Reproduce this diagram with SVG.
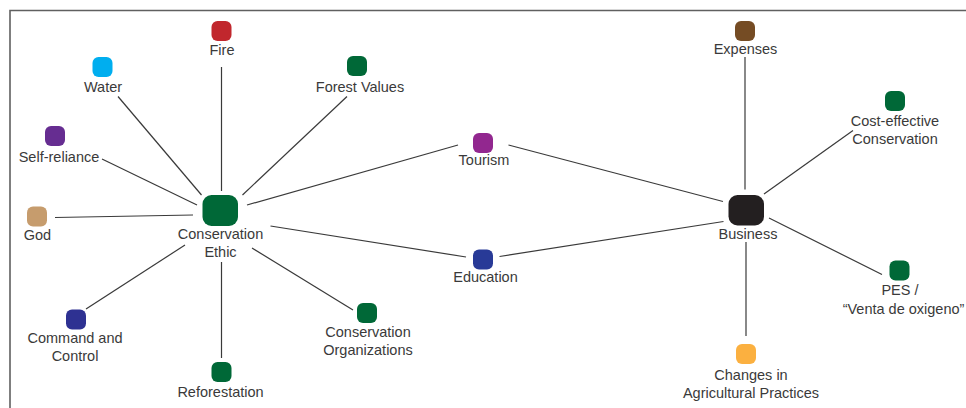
<svg xmlns="http://www.w3.org/2000/svg" width="966" height="408" viewBox="0 0 966 408">
  <style>
    .frame { fill: none; stroke: #606060; stroke-width: 1.6; }
    .edge { stroke: #3a3a3a; stroke-width: 1.2; fill: none; }
    .lbl { font-family: "Liberation Sans", Arial, sans-serif; font-size: 14.5px; fill: #3a3a3a; text-anchor: middle; }
  </style>
  <rect width="966" height="408" fill="#ffffff"/>
  <path class="frame" d="M10,408 V10.5 H966"/>

  <g id="connectors">
    <line class="edge" x1="221.5" y1="67" x2="221.5" y2="191"/>
    <line class="edge" x1="118" y1="96.5" x2="201.5" y2="195"/>
    <line class="edge" x1="102" y1="159" x2="197" y2="205"/>
    <line class="edge" x1="55" y1="217.5" x2="193" y2="215"/>
    <line class="edge" x1="347" y1="96.5" x2="242.5" y2="195"/>
    <line class="edge" x1="458" y1="145" x2="247" y2="205"/>
    <line class="edge" x1="508.5" y1="145" x2="723" y2="201.5"/>
    <line class="edge" x1="270.5" y1="226" x2="466" y2="257"/>
    <line class="edge" x1="499.5" y1="256.5" x2="723.5" y2="221.5"/>
    <line class="edge" x1="86" y1="309" x2="185" y2="245"/>
    <line class="edge" x1="221.5" y1="262" x2="221.5" y2="358"/>
    <line class="edge" x1="252" y1="248" x2="353" y2="310"/>
    <line class="edge" x1="745" y1="57" x2="745" y2="189.5"/>
    <line class="edge" x1="853" y1="130.5" x2="764" y2="194"/>
    <line class="edge" x1="769" y1="218" x2="882" y2="274.5"/>
    <line class="edge" x1="746" y1="242" x2="746" y2="336"/>
  </g>

  <g id="fire">
    <rect x="211.5" y="21" width="20" height="20" rx="6" fill="#c1272d"/>
    <text class="lbl" x="222" y="55">Fire</text>
  </g>
  <g id="water">
    <rect x="92.5" y="57" width="20" height="20" rx="6" fill="#00aeef"/>
    <text class="lbl" x="103" y="91.5">Water</text>
  </g>
  <g id="self-reliance">
    <rect x="45" y="126" width="20" height="20" rx="6" fill="#662d91"/>
    <text class="lbl" x="59" y="161.5">Self-reliance</text>
  </g>
  <g id="god">
    <rect x="27" y="206.5" width="20" height="20" rx="6" fill="#c69c6d"/>
    <text class="lbl" x="37.5" y="240">God</text>
  </g>
  <g id="conservation-ethic">
    <rect x="202.5" y="195" width="35.5" height="31" rx="9" fill="#006837"/>
    <text class="lbl" x="220.5" y="238.5">Conservation</text>
    <text class="lbl" x="220.5" y="256.5">Ethic</text>
  </g>
  <g id="command-and-control">
    <rect x="66" y="309.5" width="20" height="20" rx="6" fill="#2e3192"/>
    <text class="lbl" x="75" y="342.5">Command and</text>
    <text class="lbl" x="75" y="360.5">Control</text>
  </g>
  <g id="reforestation">
    <rect x="211.5" y="362" width="20" height="20" rx="6" fill="#006837"/>
    <text class="lbl" x="220.5" y="396.5">Reforestation</text>
  </g>
  <g id="forest-values">
    <rect x="347" y="56" width="20" height="20" rx="6" fill="#006837"/>
    <text class="lbl" x="360" y="92">Forest Values</text>
  </g>
  <g id="tourism">
    <rect x="473" y="133" width="20" height="20" rx="6" fill="#92278f"/>
    <text class="lbl" x="484" y="165">Tourism</text>
  </g>
  <g id="education">
    <rect x="473" y="249.5" width="20" height="20" rx="6" fill="#283a97"/>
    <text class="lbl" x="485.5" y="281.5">Education</text>
  </g>
  <g id="conservation-organizations">
    <rect x="357" y="303" width="20" height="20" rx="6" fill="#006837"/>
    <text class="lbl" x="368" y="336.5">Conservation</text>
    <text class="lbl" x="368" y="355">Organizations</text>
  </g>
  <g id="expenses">
    <rect x="735" y="21" width="20" height="20" rx="6" fill="#754c24"/>
    <text class="lbl" x="745.5" y="53.5">Expenses</text>
  </g>
  <g id="cost-effective-conservation">
    <rect x="885" y="91" width="20" height="20" rx="6" fill="#006837"/>
    <text class="lbl" x="895" y="126">Cost-effective</text>
    <text class="lbl" x="895" y="144">Conservation</text>
  </g>
  <g id="business">
    <rect x="728.5" y="195" width="35.5" height="30.5" rx="9" fill="#231f20"/>
    <text class="lbl" x="748" y="238.5">Business</text>
  </g>
  <g id="pes">
    <rect x="889.5" y="260.5" width="20" height="20" rx="6" fill="#006837"/>
    <text class="lbl" x="900" y="295">PES /</text>
    <text class="lbl" x="903.5" y="313.5">“Venta de oxigeno”</text>
  </g>
  <g id="changes-in-agricultural-practices">
    <rect x="736" y="344" width="20" height="20" rx="6" fill="#fbb040"/>
    <text class="lbl" x="751" y="380">Changes in</text>
    <text class="lbl" x="751" y="398">Agricultural Practices</text>
  </g>
</svg>
